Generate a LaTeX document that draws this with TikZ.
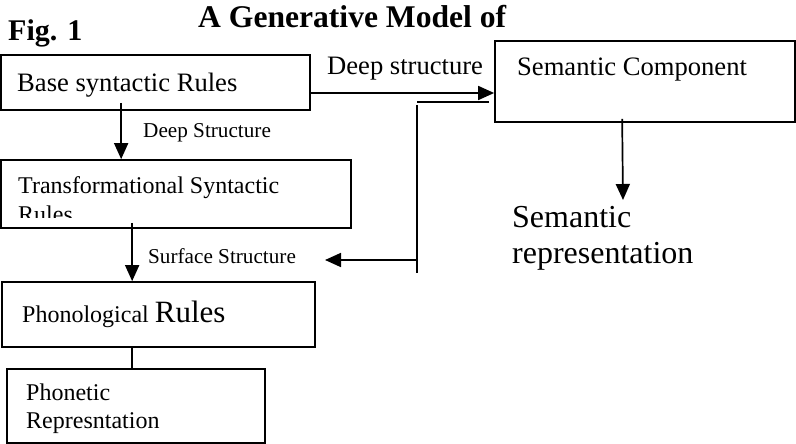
\documentclass[tikz,border=0pt]{standalone}
\usepackage{fontspec}
\setmainfont{Liberation Serif}
\usetikzlibrary{arrows.meta,shapes}
\tikzstyle{box}=[draw, line width=1.7pt, inner sep=0pt]
\tikzstyle{edge} = [draw, line width=1.7pt, -{Triangle[length=16pt,width=14pt]}]
\tikzstyle{link} = [draw, line width=1.7pt]
\tikzstyle{titletext}=[anchor=base west, inner sep=0pt, font=\fontsize{30}{34}\selectfont\bfseries]
\tikzstyle{boxtext}=[anchor=base west, inner sep=0pt, font=\fontsize{26.6}{30}\selectfont]
\tikzstyle{midtext}=[anchor=base west, inner sep=0pt, font=\fontsize{24}{28}\selectfont]
\tikzstyle{smalltext}=[anchor=base west, inner sep=0pt, font=\fontsize{21.2}{25}\selectfont]
\tikzstyle{bigtext}=[anchor=base west, inner sep=0pt, font=\fontsize{32}{36}\selectfont]

\begin{document}
\begin{tikzpicture}[x=1pt, y=-1pt]
    \useasboundingbox (0,0) rectangle (796,444);
    % First we draw the boxes
    \foreach \pos/\w/\h/\name in {{(155.5,82.5)/309/55/base}, {(176,194)/350/68/trans},
        {(158.5,314.5)/313/65/phono}, {(136,406)/258/74/phonetic}, {(645,81.5)/300/81/sem}}
        \node[box, minimum width=\w pt, minimum height=\h pt] (\name) at \pos {};

    % Then the texts
    \node[titletext] (fig) at (8,41) {Fig. 1};
    \node[titletext, font=\fontsize{31.6}{36}\selectfont\bfseries] (title) at (198,28) {A Generative Model of};
    \node[boxtext] (basetext) at (17,91.5) {Base syntactic Rules};
    \node[boxtext] (deeptop) at (327,75) {Deep structure};
    \node[boxtext] (semtext) at (517,76) {Semantic Component};
    \node[smalltext] (deeplow) at (143,138) {Deep Structure};
    \node[midtext] (transA) at (18,193) {Transformational Syntactic};
    \begin{scope}
        \clip (trans.north west) rectangle ([yshift=11pt]trans.south east);
        \node[midtext] (transB) at (18,222) {Rules};
    \end{scope}
    \node[smalltext] (surface) at (148,263) {Surface Structure};
    \node[midtext] (phonotext) at (22,322) {Phonological {\fontsize{31}{36}\selectfont Rules}};
    \node[midtext] (phonA) at (26,400) {Phonetic};
    \node[midtext] (phonB) at (26,428) {Represntation};
    \node[bigtext] (semA) at (512,227) {Semantic};
    \node[bigtext] (semB) at (512,263) {representation};

    % Connect boxes with arrows
    \path[edge] ([xshift=121pt,yshift=8pt]base.south west) -- ([xshift=121pt]trans.north west);
    \path[edge] ([xshift=132pt,yshift=6pt]trans.south west) -- ([xshift=131pt]phono.north west);
    \path[link] ([xshift=131pt]phono.south west) -- ([xshift=126pt]phonetic.north west);
    \path[edge] ([yshift=-10.5pt]base.east) -- ([yshift=-10.5pt]base.east -| sem.west);

    % the line back from the semantic component
    \coordinate (fbcorner) at (417,102);
    \coordinate (fbtop) at (417,105);
    \coordinate (fbbottom) at (417,273);
    \coordinate (fbjoin) at (417,260);
    \coordinate (fbtip) at (325,260);
    \coordinate (semtip) at (623,200);
    \path[link] ([xshift=-5pt,yshift=-20.5pt]sem.west) -- (fbcorner);
    \path[link] (fbtop) -- (fbbottom);
    \path[edge] (fbjoin) -- (fbtip);
    \path[edge] ([xshift=128pt,yshift=4pt]sem.south west) -- (semtip);
\end{tikzpicture}
\end{document}
